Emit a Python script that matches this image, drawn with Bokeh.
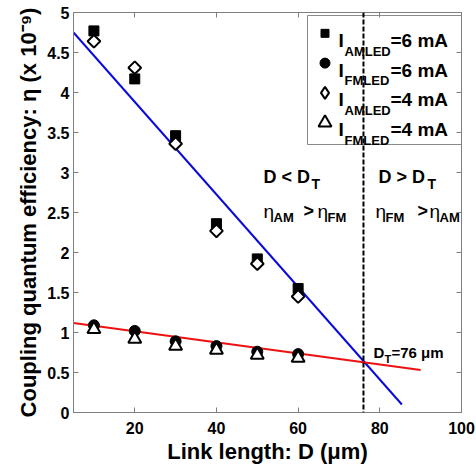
from math import pi
from bokeh.plotting import figure
from bokeh.models import Range1d, LinearAxis, FixedTicker, Label, Span
from bokeh.embed import file_html
from bokeh.resources import INLINE

# ---------------- data ----------------
link_length = [10, 20, 30, 40, 50, 60]
am_6ma = [4.77, 4.17, 3.46, 2.36, 1.92, 1.55]
fm_6ma = [1.09, 1.02, 0.89, 0.83, 0.76, 0.73]
am_4ma = [4.64, 4.31, 3.36, 2.27, 1.86, 1.45]
fm_4ma = [1.04, 0.92, 0.83, 0.78, 0.72, 0.68]

am_fit_x = [5, 85.4]
am_fit_y = [4.75, 0.10]
fm_fit_x = [5, 90]
fm_fit_y = [1.12, 0.53]
transition_d = 76

x_ticks = [20, 40, 60, 80, 100]
y_ticks = [0, 0.5, 1, 1.5, 2, 2.5, 3, 3.5, 4, 4.5, 5]
y_tick_labels = ["0", "0.5", "1", "1.5", "2", "2.5", "3", "3.5", "4", "4.5", "5"]

legend_subs = ["AMLED", "FMLED", "AMLED", "FMLED"]
legend_vals = ["=6 mA", "=6 mA", "=4 mA", "=4 mA"]

FONT = "Liberation Sans"
AXIS_GRAY = "#7f7f7f"

p = figure(width=476, height=466, output_backend="svg", toolbar_location=None,
           x_range=Range1d(5, 100), y_range=Range1d(0, 5),
           min_border_left=73, min_border_right=15, min_border_top=12, min_border_bottom=51)
p.background_fill_color = "white"
p.border_fill_color = "white"
p.outline_line_color = AXIS_GRAY
p.xgrid.visible = False
p.ygrid.visible = False

def style_axis(ax, ticks, show_labels=True):
    ax.ticker = FixedTicker(ticks=ticks)
    ax.major_tick_in = 5
    ax.major_tick_out = 0
    ax.minor_tick_in = 0
    ax.minor_tick_out = 0
    ax.axis_line_color = AXIS_GRAY
    ax.major_tick_line_color = AXIS_GRAY
    ax.major_label_text_font = FONT
    ax.major_label_text_font_style = "bold"
    ax.major_label_text_color = "black"
    if show_labels:
        ax.major_label_text_font_size = "16px"
    else:
        ax.major_label_text_font_size = "1px"
        ax.major_label_overrides = {t: "" for t in ticks}
        ax.major_label_standoff = 0

xa = p.xaxis[0]
style_axis(xa, x_ticks)
xa.major_label_standoff = 9
xa.axis_label = "Link length: D (\u03bcm)"
xa.axis_label_text_font = FONT
xa.axis_label_text_font_style = "bold"
xa.axis_label_text_font_size = "22px"
xa.axis_label_text_color = "black"
xa.axis_label_standoff = 2

ya = p.yaxis[0]
style_axis(ya, y_ticks)
ya.major_label_standoff = 4
ya.major_label_overrides = {t: l for t, l in zip(y_ticks, y_tick_labels)}
ya.axis_label = "Coupling quantum efficiency: \u03b7 (x 10\u207b\u2079)"
ya.axis_label_text_font = FONT
ya.axis_label_text_font_style = "bold"
ya.axis_label_text_font_size = "22px"
ya.axis_label_text_color = "black"
ya.axis_label_standoff = 3

ra = LinearAxis()
style_axis(ra, y_ticks, show_labels=False)
p.add_layout(ra, "right")
ta = LinearAxis()
style_axis(ta, x_ticks, show_labels=False)
p.add_layout(ta, "above")

# fit lines
p.line(am_fit_x, am_fit_y, line_color="#0a0ad8", line_width=2)
p.line(fm_fit_x, fm_fit_y, line_color="#ee1111", line_width=2)
p.add_layout(Span(location=transition_d, dimension="height", line_color="black",
                  line_width=2, line_dash="5 2"))

# data markers
p.scatter(link_length, am_6ma, marker="square", size=10, fill_color="black", line_color="black")
p.scatter(link_length, fm_6ma, marker="circle", size=11, fill_color="black", line_color="black")
p.scatter(link_length, am_4ma, marker="square", angle=pi / 4, size=9,
          fill_color="white", line_color="black", line_width=2)
p.scatter(link_length, fm_4ma, marker="triangle", size=13,
          fill_color="white", line_color="black", line_width=2)

# helpers for annotation placement (page pixel -> data)
def X(px):
    return 5 + (px - 73) * 95 / 388

def Y(py):
    return (415 - py) * 5 / 403

def putp(text, px, py, size, bold=True):
    p.add_layout(Label(x=X(px), y=Y(py), text=text, text_font=FONT,
                       text_font_size=f"{size}px",
                       text_font_style="bold" if bold else "normal",
                       text_align="left", text_baseline="alphabetic",
                       text_color="black"))

# ---------------- legend (drawn by hand so the labels can carry subscripts) ----------------
p.quad(left=X(307), right=X(461), top=Y(15), bottom=Y(145),
       fill_color="white", line_color="#8a8a8a", line_width=1)
row_py = [33, 63, 93, 123]
sw_x = [X(324.5)] * 4
sw_y = [Y(v) for v in row_py]
p.scatter(sw_x[0:1], sw_y[0:1], marker="square", size=8, fill_color="black", line_color="black")
p.scatter(sw_x[1:2], sw_y[1:2], marker="circle", size=10, fill_color="black", line_color="black")
p.scatter(sw_x[2:3], sw_y[2:3], marker="diamond", size=12, fill_color="white",
          line_color="black", line_width=2)
p.scatter(sw_x[3:4], sw_y[3:4], marker="triangle", size=13, fill_color="white",
          line_color="black", line_width=2)
for i, (sub, val) in enumerate(zip(legend_subs, legend_vals)):
    base = row_py[i] + 7
    putp("I", 338, base, 19)
    putp(sub, 344, base + 11, 13)
    putp(val, 390, base, 19)

# ---------------- region annotations ----------------
putp("D < D", 263, 178, 18)
putp("T", 311, 185, 14)
putp("\u03b7", 263, 212, 19, bold=False)
putp("AM", 273, 219, 13)
putp(">", 303, 212, 18)
putp("\u03b7", 317, 212, 19, bold=False)
putp("FM", 327, 219, 13)

putp("D > D", 378, 178, 18)
putp("T", 427, 185, 14)
putp("\u03b7", 375, 212, 19, bold=False)
putp("FM", 385, 219, 13)
putp(">", 417, 212, 18)
putp("\u03b7", 429, 212, 19, bold=False)
putp("AM", 439, 219, 13)

putp("D", 373, 355, 15)
putp("T", 384, 361, 11)
putp("=76 \u03bcm", 391, 355, 15)

open("out.html", "w").write(file_html(p, INLINE))
